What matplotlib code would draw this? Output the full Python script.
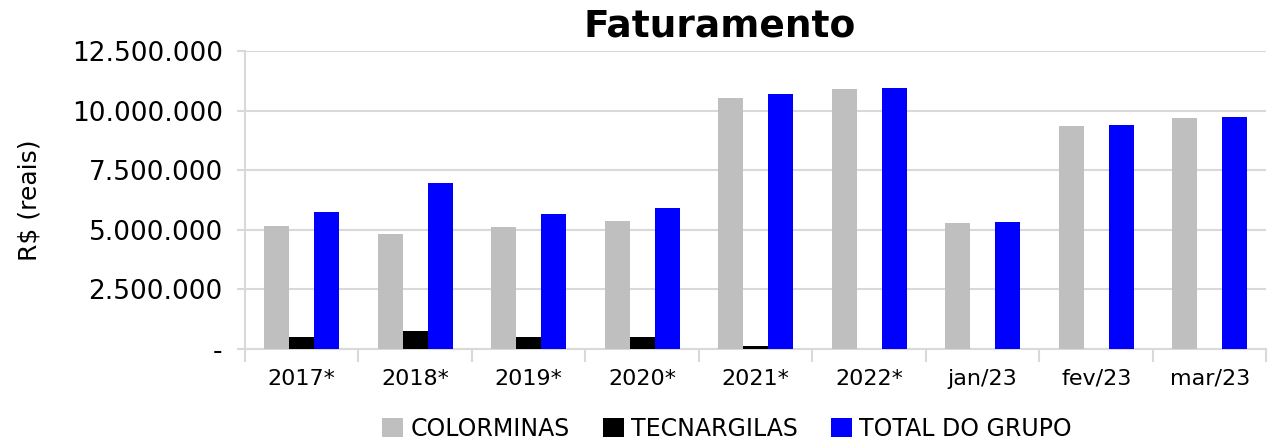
import numpy as np
import matplotlib
matplotlib.use("Agg")
import matplotlib.pyplot as plt
from matplotlib.ticker import FuncFormatter, FixedLocator

# dados
periodos = ['2017*', '2018*', '2019*', '2020*', '2021*', '2022*', 'jan/23', 'fev/23', 'mar/23']
colorminas = [5160000, 4820000, 5120000, 5360000, 10530000, 10910000, 5300000, 9370000, 9700000]
tecnargilas = [520000, 740000, 520000, 520000, 150000, 15000, 0, 0, 0]
total_grupo = [5730000, 6950000, 5680000, 5900000, 10710000, 10950000, 5330000, 9400000, 9720000]

plt.rcParams['font.family'] = ['DejaVu Sans']

fig = plt.figure(figsize=(12.69, 4.43), dpi=100)
ax = fig.add_axes([0.193, 0.212, 0.805, 0.673])

x = np.arange(len(periodos))
w = 0.22
ax.bar(x - w, colorminas, w, color='#BFBFBF', label='COLORMINAS', zorder=3)
ax.bar(x, tecnargilas, w, color='black', label='TECNARGILAS', zorder=3)
ax.bar(x + w, total_grupo, w, color='#0000FF', label='TOTAL DO GRUPO', zorder=3)

ax.set_xlim(-0.5, len(periodos) - 0.5)
ax.set_ylim(0, 12500000)
ax.set_yticks(np.arange(0, 12500001, 2500000))


def fmt(v, pos):
    if v == 0:
        return '-'
    return f'{int(v):,}'.replace(',', '.')


ax.yaxis.set_major_formatter(FuncFormatter(fmt))
ax.grid(axis='y', color='#D9D9D9', linewidth=1.5, zorder=0)

ax.set_xticks(x)
ax.set_xticklabels(periodos, fontsize=16)
ax.xaxis.set_minor_locator(FixedLocator(np.arange(-0.5, len(periodos), 1)))
ax.tick_params(axis='x', which='major', length=0, pad=14)
ax.tick_params(axis='x', which='minor', length=9, color='#D9D9D9', width=1.5)
ax.tick_params(axis='y', length=6, color='#D9D9D9', width=1.5, labelsize=19, pad=10)

for s in ['top', 'right']:
    ax.spines[s].set_visible(False)
for s in ['left', 'bottom']:
    ax.spines[s].set_color('#D9D9D9')
    ax.spines[s].set_linewidth(1.5)

ax.set_ylabel('R$ (reais)', fontsize=18)
ax.yaxis.set_label_coords(-0.199, 0.5)
fig.text(0.567, 0.94, 'Faturamento', fontsize=27, fontweight='bold', ha='center', va='center')

fig.legend(loc='center', bbox_to_anchor=(0.573, 0.032), ncol=3, frameon=False,
           fontsize=17, handlelength=0.9, handleheight=0.9, handletextpad=0.3,
           columnspacing=1.4)

fig.savefig('out.png', dpi=100)
